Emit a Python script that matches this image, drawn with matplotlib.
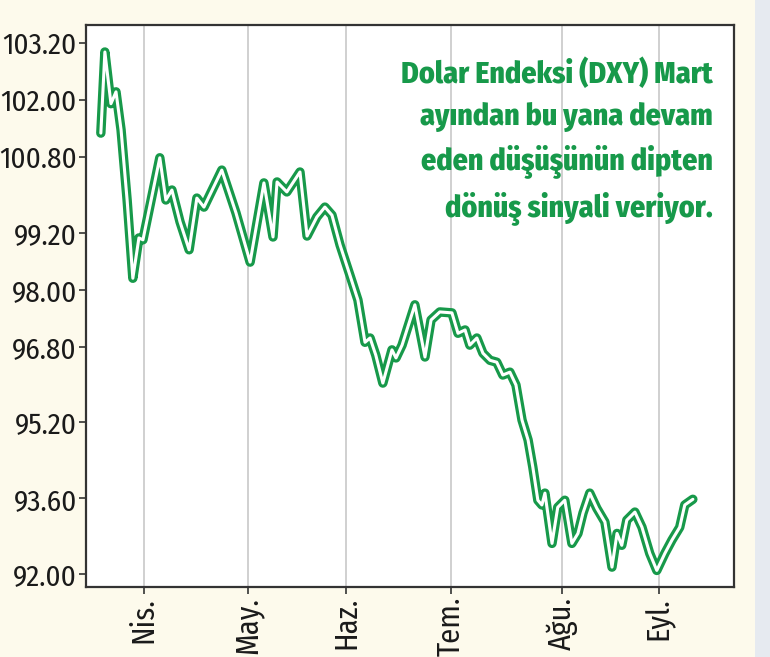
import matplotlib
matplotlib.use("Agg")
import matplotlib.pyplot as plt
from matplotlib.patches import Rectangle

# x values are days counted from 1 March, y values are index levels
days = [18.2, 19.4, 21.2, 22.7, 24.2, 26.0, 27.7, 29.5, 30.7, 35.7,
        37.5, 39.3, 41.7, 44.4, 46.7, 48.8, 54.1, 58.3, 62.5, 66.6,
        69.3, 70.5, 73.4, 77.3, 79.4, 82.3, 84.7, 86.8, 89.2, 92.1,
        94.5, 96.6, 98.1, 99.8, 101.9, 104.6, 105.8, 107.6, 111.4, 114.4,
        116.2, 118.8, 122.4, 124.2, 126.3, 127.7, 129.8, 131.6, 133.7, 135.7,
        137.5, 139.6, 141.4, 143.2, 145.0, 146.4, 147.9, 149.1, 150.0, 152.1,
        153.8, 155.9, 158.0, 159.8, 161.3, 163.3, 165.4, 167.8, 169.9, 171.4,
        172.8, 174.3, 176.7, 178.8, 181.1, 183.2, 185.6, 187.7, 190.0, 191.5,
        193.9]
dxy = [101.30, 103.01, 101.92, 102.17, 101.37, 99.89, 98.24, 99.09, 99.05, 100.78,
       99.89, 100.10, 99.43, 98.84, 99.93, 99.74, 100.52, 99.62, 98.58, 100.25,
       99.11, 100.27, 100.06, 100.48, 99.13, 99.53, 99.74, 99.57, 98.94, 98.31,
       97.78, 96.89, 96.98, 96.62, 96.03, 96.73, 96.56, 96.83, 97.68, 96.58,
       97.36, 97.53, 97.51, 97.08, 97.15, 96.83, 96.98, 96.66, 96.51, 96.47,
       96.20, 96.26, 95.99, 95.25, 94.83, 94.26, 93.56, 93.46, 93.71, 92.65,
       93.41, 93.56, 92.65, 92.86, 93.29, 93.71, 93.39, 93.10, 92.15, 92.86,
       92.61, 93.14, 93.31, 92.99, 92.44, 92.08, 92.44, 92.72, 92.99, 93.46,
       93.58]

month_pos = [31, 62, 91, 122, 155, 184]
month_labels = ["Nis.", "May.", "Haz.", "Tem.", "Ağu.", "Eyl."]
y_ticks = [92.00, 93.60, 95.20, 96.80, 98.00, 99.20, 100.80, 102.00, 103.20]

note = "Dolar Endeksi (DXY) Mart\nayından bu yana devam\neden düşüşünün dipten\ndönüş sinyali veriyor."

GREEN = "#17994a"
narrow = ["Fira Sans Condensed", "Asap Condensed", "DejaVu Sans"]

fig = plt.figure(figsize=(7.7, 6.57), dpi=100)
fig.patch.set_facecolor("#fdfaec")
fig.patches.append(Rectangle((0.981, 0), 0.019, 1, transform=fig.transFigure,
                             facecolor="#e6eaf0", edgecolor="none"))

ax = fig.add_axes([0.1117, 0.1065, 0.8415, 0.8555])
ax.set_facecolor("white")

ax.plot(days, dxy, color=GREEN, lw=6.8, solid_joinstyle="round", solid_capstyle="round", zorder=3)
ax.plot(days, dxy, color="white", lw=2.2, solid_joinstyle="round", solid_capstyle="round", zorder=4)

ax.set_xlim(13.8, 206.1)
ax.set_ylim(91.73, 103.58)

ax.set_xticks(month_pos)
ax.set_xticklabels(month_labels, rotation=90, family=narrow, fontsize=22, color="#1a1a1a")
ax.set_yticks(y_ticks)
ax.set_yticklabels(["%.2f" % v for v in y_ticks], family=narrow, fontsize=21, color="#1a1a1a")
ax.tick_params(axis="both", length=5, width=1.2, color="#333333", pad=2)
ax.tick_params(axis="y", pad=1.5)
ax.grid(axis="x", color="#c8c8c8", lw=1.2)

for side in ax.spines.values():
    side.set_color("#333333")
    side.set_linewidth(1.6)

ax.text(0.968, 0.94, note, transform=ax.transAxes, ha="right", va="top",
        family=narrow, fontsize=21.5, fontweight=800, color=GREEN,
        linespacing=1.5, zorder=5)

fig.savefig("out.png", dpi=100, facecolor=fig.get_facecolor())
